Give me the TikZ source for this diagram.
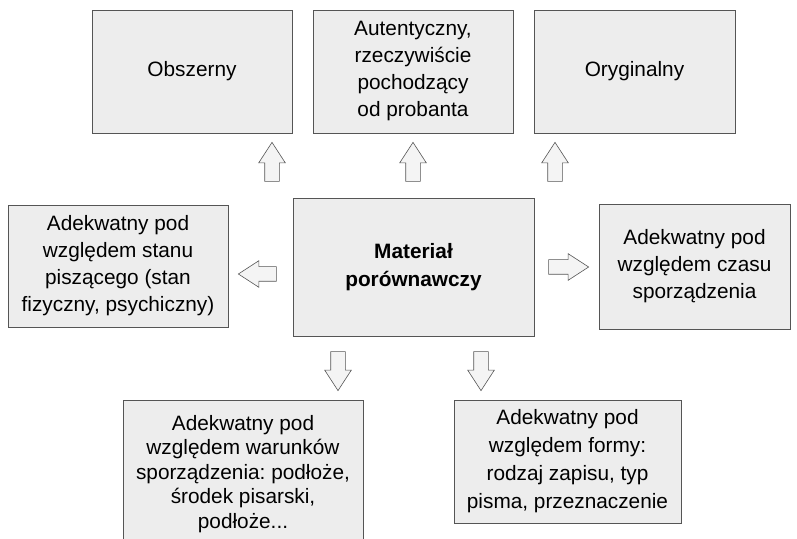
\documentclass[tikz,border=0pt]{standalone}
\usepackage{fontspec}
\setmainfont{Liberation Sans}
\frenchspacing
\usetikzlibrary{positioning, shapes.arrows}
\definecolor{BoxFill}{RGB}{237, 237, 237}
\definecolor{BoxLine}{RGB}{85, 85, 85}
\tikzset{
	cbox/.style={draw=BoxLine, fill=BoxFill, line width=0.8pt, align=center,
		font=\fontsize{20.8}{27}\selectfont, inner sep=2pt},
	blockarrow/.style={single arrow, draw=BoxLine, fill=BoxFill!60!white, line width=0.6pt,
		inner sep=7pt, minimum width=26pt, single arrow head extend=6pt,
		single arrow tip angle=66, minimum height=39pt},
}

\begin{document}
\begin{tikzpicture}[x=1pt,y=1pt]
		\clip (0,0) rectangle (797,538);
		\useasboundingbox (0,0) rectangle (797,538);
		
		% top row
		\node[cbox, minimum width=200pt, minimum height=123pt] (obszerny) at (192,466.5) {Obszerny};
		\node[cbox, minimum width=200pt, minimum height=123pt] (autent) at (413,466.5) {Autentyczny,\\ rzeczywiście\\ pochodzący\\ od probanta};
		\node[cbox, minimum width=201pt, minimum height=123pt] (orygin) at (634.5,466.5) {Oryginalny};
		
		% middle row
		\node[cbox, minimum width=241pt, minimum height=138pt, font=\bfseries\fontsize{20.8}{27.5}\selectfont] (material) at (413.5,271) {Materiał\\ porównawczy};
		\node[cbox, minimum width=220pt, minimum height=122pt] (stan) at (118,272) {Adekwatny pod\\ względem stanu\\ piszącego (stan\\ fizyczny, psychiczny)};
		\node[cbox, minimum width=191pt, minimum height=125pt] (czas) at (694.5,271.5) {Adekwatny pod\\ względem czasu\\ sporządzenia};
		
		% bottom row
		\node[cbox, minimum width=240pt, minimum height=148pt, font=\fontsize{20.8}{24.5}\selectfont] (warunki) at (243,64) {Adekwatny pod\\ względem warunków\\ sporządzenia: podłoże,\\ środek pisarski,\\ podłoże...};
		\node[cbox, minimum width=227pt, minimum height=123pt, font=\fontsize{20.8}{28}\selectfont] (forma) at (567.5,76.5) {Adekwatny pod\\ względem formy:\\ rodzaj zapisu, typ\\ pisma, przeznaczenie};
		
		% block arrows
		\node[blockarrow, rotate=90] (a1) at (272,370.5) {};
		\node[blockarrow, rotate=90] (a2) at (413,370.5) {};
		\node[blockarrow, rotate=90] (a3) at (555,370.5) {};
		\node[blockarrow, rotate=180, minimum height=38pt] (a4) at (263,264) {};
		\node[blockarrow, minimum height=40pt] (a5) at (563,271) {};
		\node[blockarrow, rotate=-90] (a6) at (338,172.5) {};
		\node[blockarrow, rotate=-90] (a7) at (481,172.5) {};
\end{tikzpicture}
\end{document}
